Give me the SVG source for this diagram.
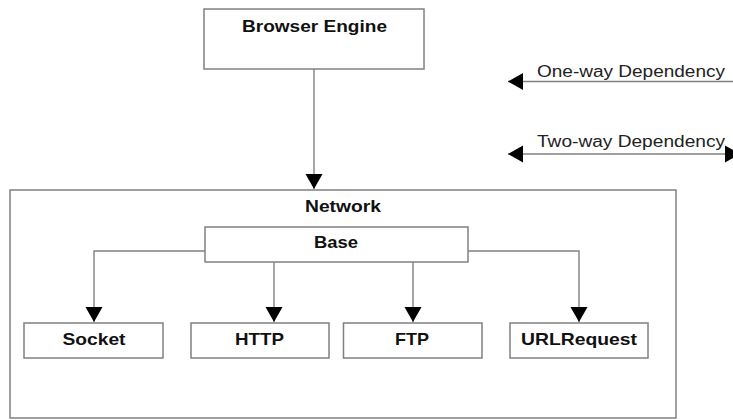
<svg xmlns="http://www.w3.org/2000/svg" width="733" height="420" viewBox="0 0 733 420">
  <style>
    .box { fill: #ffffff; stroke: #808080; stroke-width: 1.5; }
    .label { font-family: "Liberation Sans", Arial, sans-serif; font-weight: bold; font-size: 16.5px; fill: #111111; }
    .legend { font-family: "Liberation Sans", Arial, sans-serif; font-size: 16px; fill: #222222; }
    .link { fill: none; stroke: #808080; stroke-width: 1.4; }
  </style>
  <defs>
    <marker id="arrow" markerUnits="userSpaceOnUse" markerWidth="16" markerHeight="18" viewBox="0 0 16 18" refX="15" refY="9" orient="auto-start-reverse">
      <path d="M0,0.5 L15,9 L0,17.5 Z" fill="#000000"/>
    </marker>
  </defs>
  <rect width="733" height="420" fill="#ffffff"/>

  <!-- outer network container -->
  <g id="network">
    <rect class="box" x="10" y="190" width="666" height="228"/>
    <text class="label" x="305" y="212" textLength="76" lengthAdjust="spacingAndGlyphs">Network</text>
  </g>

  <g id="browser-engine">
    <rect class="box" x="204" y="9" width="220" height="60"/>
    <text class="label" x="242" y="31.5" textLength="145" lengthAdjust="spacingAndGlyphs">Browser Engine</text>
  </g>

  <g id="base">
    <rect class="box" x="205" y="227" width="263" height="35"/>
    <text class="label" x="314" y="248" textLength="44" lengthAdjust="spacingAndGlyphs">Base</text>
  </g>

  <g id="socket">
    <rect class="box" x="24" y="323" width="139" height="35"/>
    <text class="label" x="62.5" y="345" textLength="63" lengthAdjust="spacingAndGlyphs">Socket</text>
  </g>

  <g id="http">
    <rect class="box" x="191" y="323" width="138" height="35"/>
    <text class="label" x="235" y="345" textLength="49" lengthAdjust="spacingAndGlyphs">HTTP</text>
  </g>

  <g id="ftp">
    <rect class="box" x="343.5" y="323" width="138.5" height="35"/>
    <text class="label" x="395" y="345" textLength="34" lengthAdjust="spacingAndGlyphs">FTP</text>
  </g>

  <g id="urlrequest">
    <rect class="box" x="510" y="323" width="138" height="35"/>
    <text class="label" x="521" y="345" textLength="116" lengthAdjust="spacingAndGlyphs">URLRequest</text>
  </g>

  <!-- dependency connectors -->
  <g id="connectors">
    <path class="link" d="M314,69 V189" marker-end="url(#arrow)"/>
    <path class="link" d="M205,251 H94 V322" marker-end="url(#arrow)"/>
    <path class="link" d="M274,262 V322" marker-end="url(#arrow)"/>
    <path class="link" d="M413,262 V322" marker-end="url(#arrow)"/>
    <path class="link" d="M468,251 H579 V322" marker-end="url(#arrow)"/>
  </g>

  <!-- legend -->
  <g id="legend-one-way">
    <path class="link" d="M735,81.5 H508" marker-end="url(#arrow)"/>
    <text class="legend" x="537" y="77" textLength="188" lengthAdjust="spacingAndGlyphs">One-way Dependency</text>
  </g>
  <g id="legend-two-way">
    <path class="link" d="M508,154 H740" marker-start="url(#arrow)" marker-end="url(#arrow)"/>
    <text class="legend" x="537" y="147" textLength="188" lengthAdjust="spacingAndGlyphs">Two-way Dependency</text>
  </g>
</svg>
